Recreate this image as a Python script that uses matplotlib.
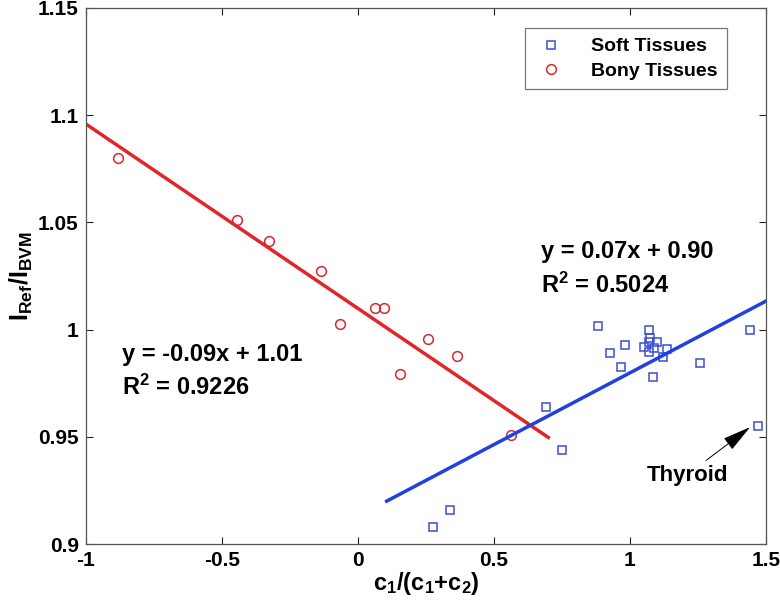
import matplotlib
matplotlib.use("Agg")
import matplotlib.pyplot as plt
import numpy as np

plt.rcParams['font.family'] = ['Liberation Sans', 'DejaVu Sans']
plt.rcParams['font.weight'] = 'bold'
plt.rcParams['mathtext.fontset'] = 'custom'
plt.rcParams['mathtext.rm'] = 'Liberation Sans:bold'
plt.rcParams['mathtext.bf'] = 'Liberation Sans:bold'
plt.rcParams['mathtext.it'] = 'Liberation Sans:bold'
plt.rcParams['mathtext.default'] = 'regular'

# Soft tissues (blue squares)
soft_x = [0.882, 1.071, 1.074, 1.100, 0.983, 1.050, 1.071, 1.089, 1.069, 0.926,
          1.138, 1.123, 1.256, 0.966, 1.084, 1.442, 1.471, 0.690, 0.752, 0.277, 0.339]
soft_y = [1.0015, 1.000, 0.996, 0.994, 0.9927, 0.992, 0.994, 0.9915, 0.9894, 0.989,
          0.991, 0.987, 0.9843, 0.9826, 0.978, 1.000, 0.955, 0.964, 0.9437, 0.908, 0.916]

# Bony tissues (red circles)
bony_x = [-0.881, -0.444, -0.326, -0.137, -0.064, 0.063, 0.096, 0.156, 0.258, 0.364, 0.562]
bony_y = [1.0802, 1.0511, 1.0414, 1.0273, 1.0028, 1.0102, 1.0102, 0.9792, 0.9955, 0.9878, 0.9507]

# Fit lines (endpoints)
bony_fit_x = [-1.0, 0.70]
bony_fit_y = [1.0959, 0.9497]
soft_fit_x = [0.106, 1.5]
soft_fit_y = [0.920, 1.0133]

xticks = [-1, -0.5, 0, 0.5, 1, 1.5]
xticklabels = ['-1', '-0.5', '0', '0.5', '1', '1.5']
yticks = [0.9, 0.95, 1.0, 1.05, 1.1, 1.15]
yticklabels = ['0.9', '0.95', '1', '1.05', '1.1', '1.15']

fig = plt.figure(figsize=(7.8, 6.05), dpi=100)
ax = fig.add_axes([0.110, 0.1008, 0.872, 0.886])

ax.plot(soft_x, soft_y, 's', mfc='none', mec='#3a4fd0', ms=6, mew=1.1, label='Soft Tissues')
ax.plot(bony_x, bony_y, 'o', mfc='none', mec='#d42a30', ms=7, mew=1.1, label='Bony Tissues')
ax.plot(bony_fit_x, bony_fit_y, '-', color='#e0262b', lw=2.5)
ax.plot(soft_fit_x, soft_fit_y, '-', color='#2040e0', lw=2.5)

ax.set_xlim(-1, 1.5)
ax.set_ylim(0.9, 1.15)
ax.set_xticks(xticks)
ax.set_xticklabels(xticklabels)
ax.set_yticks(yticks)
ax.set_yticklabels(yticklabels)
ax.tick_params(direction='in', top=True, right=True, length=5, width=0.8,
               labelsize=15, colors='#222222', pad=5)
for lab in ax.get_xticklabels() + ax.get_yticklabels():
    lab.set_fontweight('bold')
    lab.set_color('black')
for sp in ax.spines.values():
    sp.set_color('#555555')
    sp.set_linewidth(0.9)

ax.set_xlabel(r'c$_1$/(c$_1$+c$_2$)', fontsize=17, fontweight='bold', labelpad=0)
ax.set_ylabel(r'I$_{Ref}$/I$_{BVM}$', fontsize=18, fontweight='bold', labelpad=2)

ax.text(-0.867, 0.9885, 'y = -0.09x + 1.01', fontsize=17, fontweight='bold', va='center')
ax.text(-0.867, 0.9730, r'R$^2$ = 0.9226', fontsize=17, fontweight='bold', va='center')
ax.text(0.672, 1.0365, 'y = 0.07x + 0.90', fontsize=17, fontweight='bold', va='center')
ax.text(0.672, 1.0207, r'R$^2$ = 0.5024', fontsize=17, fontweight='bold', va='center')

ax.annotate('', xy=(1.450, 0.9553), xytext=(1.272, 0.9382),
            arrowprops=dict(arrowstyle='-|>,head_length=0.9,head_width=0.22',
                            color='black', lw=0.7, mutation_scale=20))
ax.text(1.063, 0.9318, 'Thyroid', fontsize=16, fontweight='bold', va='center')

leg = ax.legend(loc='upper right', bbox_to_anchor=(0.9426, 0.9627), fontsize=14,
                frameon=True, fancybox=False, edgecolor='#555555', borderpad=0.5,
                handletextpad=1.2, labelspacing=0.35, handlelength=1.7, borderaxespad=0)
leg.get_frame().set_linewidth(0.9)
for t in leg.get_texts():
    t.set_fontweight('bold')

fig.savefig('out.png', dpi=100)
